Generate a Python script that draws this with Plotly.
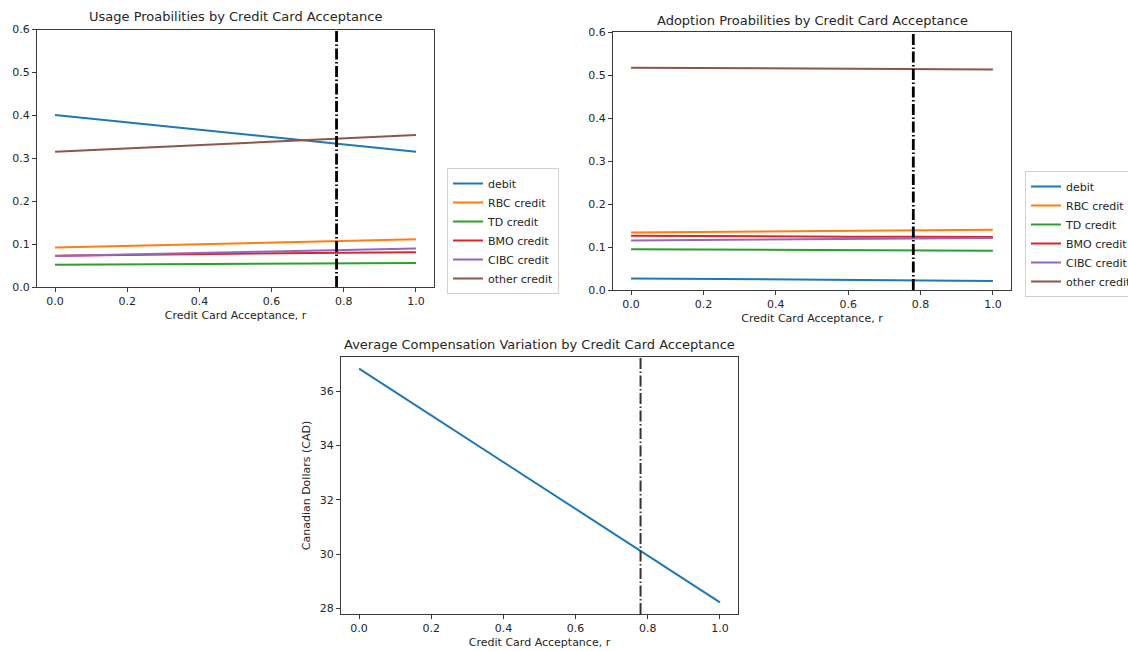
import plotly.graph_objects as go

# Credit card acceptance grid
r = [0.0, 0.2, 0.4, 0.6, 0.8, 1.0]
r_observed = 0.78

series_names = ["debit", "RBC credit", "TD credit", "BMO credit", "CIBC credit", "other credit"]
colors = ["#1f77b4", "#ff7f0e", "#2ca02c", "#d62728", "#9467bd", "#8c564b"]

# Usage probabilities
usage_debit = [0.401, 0.384, 0.367, 0.350, 0.332, 0.315]
usage_rbc = [0.092, 0.096, 0.100, 0.104, 0.107, 0.111]
usage_td = [0.052, 0.053, 0.054, 0.054, 0.055, 0.056]
usage_bmo = [0.073, 0.075, 0.076, 0.078, 0.080, 0.081]
usage_cibc = [0.072, 0.076, 0.079, 0.083, 0.086, 0.090]
usage_other = [0.315, 0.323, 0.331, 0.339, 0.346, 0.354]

# Adoption probabilities
adopt_debit = [0.027, 0.026, 0.025, 0.024, 0.022, 0.021]
adopt_rbc = [0.134, 0.135, 0.136, 0.138, 0.139, 0.140]
adopt_td = [0.095, 0.094, 0.093, 0.093, 0.092, 0.091]
adopt_bmo = [0.126, 0.125, 0.125, 0.124, 0.124, 0.123]
adopt_cibc = [0.115, 0.116, 0.117, 0.119, 0.120, 0.121]
adopt_other = [0.517, 0.516, 0.515, 0.515, 0.514, 0.513]

# Average compensation variation (CAD)
comp_r = [0.0, 0.25, 0.5, 0.75, 1.0]
comp_cad = [36.83, 34.68, 32.53, 30.38, 28.23]

usage = [usage_debit, usage_rbc, usage_td, usage_bmo, usage_cibc, usage_other]
adoption = [adopt_debit, adopt_rbc, adopt_td, adopt_bmo, adopt_cibc, adopt_other]

W, H = 1128, 651
FONT = "DejaVu Sans"
TXT = "#262626"
AX = "#3a3a3a"


def px_x(a, b):
    return [a / W, b / W]


def px_y(top, bottom):
    return [1 - bottom / H, 1 - top / H]


fig = go.Figure()

for name, color, ys in zip(series_names, colors, usage):
    fig.add_trace(go.Scatter(x=r, y=ys, mode="lines", name=name,
                             line=dict(color=color, width=2),
                             xaxis="x", yaxis="y", legend="legend"))
for name, color, ys in zip(series_names, colors, adoption):
    fig.add_trace(go.Scatter(x=r, y=ys, mode="lines", name=name,
                             line=dict(color=color, width=2),
                             xaxis="x2", yaxis="y2", legend="legend2"))
fig.add_trace(go.Scatter(x=comp_r, y=comp_cad, mode="lines", name="CV",
                         line=dict(color=colors[0], width=2),
                         xaxis="x3", yaxis="y3", showlegend=False))

DASH = "11px,2.5px,1.5px,2.5px"
for xa, ya, w, c in [("x", "y", 2.8, "black"), ("x2", "y2", 2.8, "black"), ("x3", "y3", 2.0, "#333333")]:
    fig.add_shape(type="line", xref=xa, yref=f"{ya} domain",
                  x0=r_observed, x1=r_observed, y0=0, y1=1,
                  line=dict(color=c, width=w, dash=DASH))

axis_common = dict(showline=True, mirror=True, linecolor=AX, linewidth=1,
                   ticks="outside", ticklen=4, tickcolor=AX, tickwidth=1,
                   showgrid=False, zeroline=False,
                   tickfont=dict(family=FONT, size=11, color=TXT))
xcommon = dict(axis_common, range=[-0.05, 1.05], tickvals=[0, 0.2, 0.4, 0.6, 0.8, 1.0],
               tickformat=".1f",
               title=dict(text="Credit Card Acceptance, r", font=dict(family=FONT, size=11, color=TXT),
                          standoff=4))
yprob = dict(axis_common, range=[0, 0.6], tickvals=[0, 0.1, 0.2, 0.3, 0.4, 0.5, 0.6], tickformat=".1f")

fig.update_layout(
    width=W, height=H,
    margin=dict(l=0, r=0, t=0, b=0, autoexpand=False),
    paper_bgcolor="white", plot_bgcolor="white",
    font=dict(family=FONT, size=11, color=TXT),
    xaxis=dict(xcommon, domain=px_x(37, 434), anchor="y"),
    yaxis=dict(yprob, domain=px_y(29.5, 287), anchor="x"),
    xaxis2=dict(xcommon, domain=px_x(613, 1011), anchor="y2"),
    yaxis2=dict(yprob, domain=px_y(32, 290), anchor="x2"),
    xaxis3=dict(xcommon, domain=px_x(341, 738), anchor="y3"),
    yaxis3=dict(axis_common, domain=px_y(357, 614), anchor="x3", range=[27.8, 37.26],
                tickvals=[28, 30, 32, 34, 36],
                title=dict(text="Canadian Dollars (CAD)", font=dict(family=FONT, size=11, color=TXT),
                           standoff=6)),
    legend=dict(x=447 / W, y=1 - 168 / H, xanchor="left", yanchor="top",
                bgcolor="white", bordercolor="#d0d0d0", borderwidth=1,
                font=dict(family=FONT, size=11, color=TXT), tracegroupgap=0),
    legend2=dict(x=1025 / W, y=1 - 171 / H, xanchor="left", yanchor="top",
                 bgcolor="white", bordercolor="#d0d0d0", borderwidth=1,
                 font=dict(family=FONT, size=11, color=TXT), tracegroupgap=0),
    annotations=[
        dict(text="Usage Proabilities by Credit Card Acceptance", x=235 / W, y=1 - 17 / H,
             xref="paper", yref="paper", showarrow=False, xanchor="center", yanchor="middle",
             font=dict(family=FONT, size=13, color=TXT)),
        dict(text="Adoption Proabilities by Credit Card Acceptance", x=812 / W, y=1 - 20 / H,
             xref="paper", yref="paper", showarrow=False, xanchor="center", yanchor="middle",
             font=dict(family=FONT, size=13, color=TXT)),
        dict(text="Average Compensation Variation by Credit Card Acceptance", x=539 / W, y=1 - 344 / H,
             xref="paper", yref="paper", showarrow=False, xanchor="center", yanchor="middle",
             font=dict(family=FONT, size=13, color=TXT)),
    ],
)

fig.write_html("out.html")
